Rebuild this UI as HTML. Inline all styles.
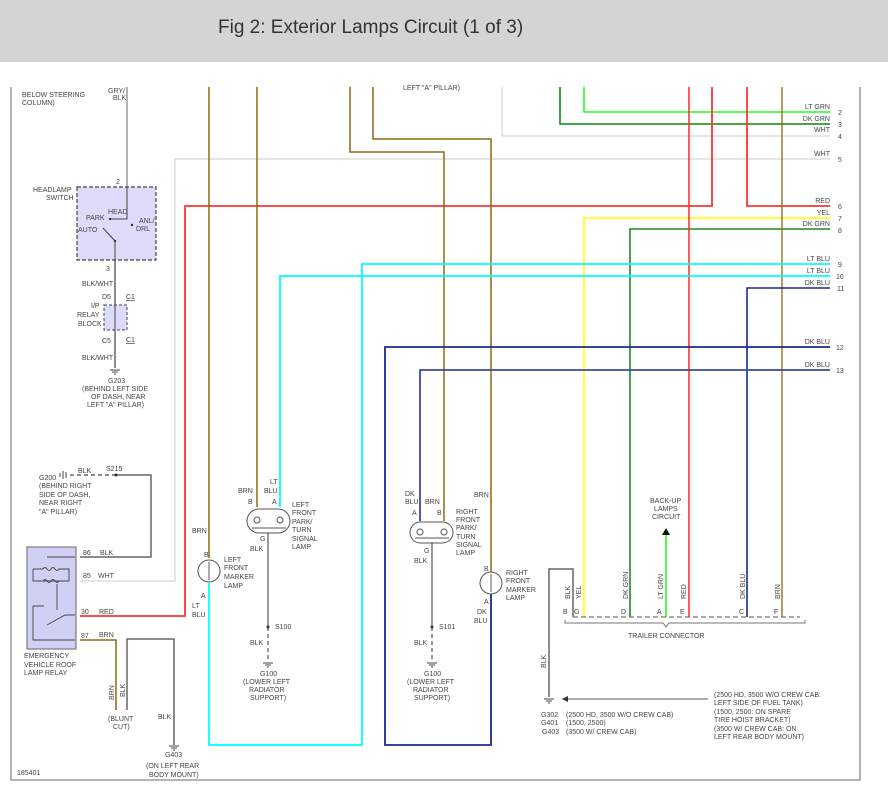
<!DOCTYPE html>
<html><head><meta charset="utf-8"><style>
body{margin:0;width:888px;height:801px;overflow:hidden;background:#fff;font-family:"Liberation Sans",sans-serif}
#hd{position:absolute;left:0;top:0;width:888px;height:62px;background:#d4d4d4}
#hd span{position:absolute;left:218px;top:17px;font-size:19px;color:#333}
svg{position:absolute;left:0;top:0}
text{font-family:"Liberation Sans",sans-serif;font-size:7px;fill:#444}
</style></head><body>
<div id="hd"><span>Fig 2: Exterior Lamps Circuit (1 of 3)</span></div>
<svg width="888" height="801" viewBox="0 0 888 801">
<g fill="none" stroke-width="1.3">
<path d="M11 87V780H860V87" stroke="#888"/>
<path d="M127 87V187" stroke="#999" stroke-width="1.5"/>
<path d="M115 260V305M115 330V368" stroke="#666" stroke-width="1.5"/>
<path d="M502 87V136H830" stroke="#ddd" stroke-width="1.5"/>
<path d="M830 159H175V581H80" stroke="#ddd" stroke-width="1.5"/>
<path d="M584 87V112H830" stroke="#22ff22" stroke-width="1.6"/>
<path d="M560 87V124H830" stroke="#2a9a2a" stroke-width="1.8"/>
<path d="M830 229H630V617" stroke="#1f8a1f" stroke-width="1.6"/>
<path d="M666 535V617" stroke="#22ff22" stroke-width="1.6"/>
<path d="M830 218H584V617" stroke="#ffff00" stroke-width="1.6"/>
<path d="M689 87V617" stroke="#ff3333" stroke-width="1.6"/>
<path d="M712 87V206H185V616H80" stroke="#ff3333" stroke-width="1.8"/>
<path d="M747 87V206H830" stroke="#ff3333" stroke-width="1.8"/>
<path d="M209 87V558" stroke="#8a6a10" stroke-width="1.5"/>
<path d="M257 87V507" stroke="#8a6a10" stroke-width="1.5"/>
<path d="M350 87V152H444V521" stroke="#8a6a10" stroke-width="1.5"/>
<path d="M373 87V139H491V572" stroke="#8a6a10" stroke-width="1.5"/>
<path d="M782 87V617" stroke="#8a6a10" stroke-width="1.3"/>
<path d="M80 640H116V710" stroke="#8a6a10" stroke-width="1.5"/>
<path d="M830 264H362V745H209V583" stroke="#00ffff" stroke-width="1.8"/>
<path d="M830 276H280V507" stroke="#00ffff" stroke-width="1.8"/>
<path d="M830 288H747V617" stroke="#1a2a90" stroke-width="1.6"/>
<path d="M830 347H385V745H491V594" stroke="#1a2a90" stroke-width="1.8"/>
<path d="M830 370H420V521" stroke="#3a4aa0" stroke-width="1.8"/>
<path d="M80 557H151V475H116" stroke="#666" stroke-width="1.5"/>
<path d="M116 475H68" stroke="#666" stroke-width="1.5" stroke-dasharray="4,3"/>
<path d="M127 710V639H174V745" stroke="#666" stroke-width="1.5"/>
<path d="M268 533V627" stroke="#777" stroke-width="1.5"/>
<path d="M268 627V662" stroke="#777" stroke-width="1.5" stroke-dasharray="4,3"/>
<path d="M432 542V627" stroke="#777" stroke-width="1.5"/>
<path d="M432 627V662" stroke="#777" stroke-width="1.5" stroke-dasharray="4,3"/>
<path d="M573 617V569H549V697" stroke="#666" stroke-width="1.5"/>
<path d="M562 699H708" stroke="#555" stroke-width="1"/>
<path d="M573 617H800" stroke="#777" stroke-width="1.2" stroke-dasharray="5,3"/>
<path d="M565 620v3h98l3 4 3-4h136v-3" stroke="#777" stroke-width="1"/>
</g>
<polygon points="562,699 568,696 568,702" fill="#333"/>
<polygon points="666,528 662,535 670,535" fill="#111"/>
<rect x="77" y="187" width="79" height="73" fill="#dcdcfa" stroke="#444" stroke-dasharray="4,2" stroke-width="1.2"/>
<path d="M110 219H127V187M115 260V241L103 228" stroke="#444" fill="none" stroke-width="1"/>
<circle cx="110" cy="219" r="1.2" fill="#333"/><circle cx="132" cy="225" r="1.2" fill="#333"/><circle cx="115" cy="241" r="1.2" fill="#333"/>
<rect x="104" y="305" width="23" height="25" fill="#dcdcfa" stroke="#444" stroke-dasharray="3,2"/>
<path d="M115 305V330" stroke="#444"/>
<rect x="27" y="547" width="49" height="102" fill="#d0d0f4" stroke="#666"/>
<g stroke="#444" fill="none" stroke-width="0.9">
<path d="M47 557H75M33 569V581H42M33 569H43M43 569q2-3 4 0t4 0 4 0 4 0h10v12H43q2-3 4 0t4 0 4 0 4 0M57 584V610M33 606V640H75M33 606H44M47 625L65 615H75"/>
</g>
<g fill="none" stroke="#555" stroke-width="1">
<rect x="247" y="509" width="43" height="24" rx="12"/>
<rect x="410" y="522" width="43" height="21" rx="10.5"/>
<circle cx="209" cy="571" r="11"/>
<circle cx="491" cy="583" r="11"/>
<ellipse cx="257" cy="520" rx="3" ry="3"/><ellipse cx="280" cy="520" rx="3" ry="3"/>
<ellipse cx="420" cy="532" rx="3" ry="3"/><ellipse cx="444" cy="532" rx="3" ry="3"/>
<path d="M252 528H286M415 538H449M209 562V580M491 574V592"/>
</g>
<g fill="#333">
<circle cx="268" cy="627" r="1.5"/><circle cx="432" cy="627" r="1.5"/><circle cx="116" cy="475" r="1.5"/>
</g>
<g stroke="#444" stroke-width="1">
<path d="M110 370h10M112 372h6M114 374h2M263 663h10M265 665h6M267 667h2M427 663h10M429 665h6M431 667h2M544 699h10M546 701h6M548 703h2M169 746h10M171 748h6M173 750h2M63 471v8M66 472v6M60 473v4"/>
</g>
<text x="22" y="97">BELOW STEERING</text><text x="22" y="105">COLUMN)</text>
<text x="108" y="93">GRY/</text><text x="113" y="100">BLK</text>
<text x="403" y="90">LEFT "A" PILLAR)</text>
<text x="116" y="184">2</text>
<text x="33" y="192">HEADLAMP</text><text x="46" y="200">SWITCH</text>
<text x="108" y="214">HEAD</text><text x="86" y="220">PARK</text><text x="78" y="232">AUTO</text>
<text x="139" y="223">ANL/</text><text x="136" y="231">DRL</text>
<text x="106" y="271">3</text>
<text x="82" y="286">BLK/WHT</text>
<text x="102" y="299">D5</text><text x="126" y="299" text-decoration="underline">C1</text>
<text x="91" y="308">I/P</text><text x="77" y="317">RELAY</text><text x="78" y="326">BLOCK</text>
<text x="102" y="343">C5</text><text x="126" y="342" text-decoration="underline">C1</text>
<text x="82" y="360">BLK/WHT</text>
<text x="108" y="383">G203</text>
<text x="82" y="391">(BEHIND LEFT SIDE</text><text x="91" y="399">OF DASH, NEAR</text><text x="87" y="407">LEFT "A" PILLAR)</text>
<text x="39" y="480">G200</text><text x="78" y="473">BLK</text><text x="106" y="471">S215</text>
<text x="39" y="488">(BEHIND RIGHT</text><text x="39" y="497">SIDE OF DASH,</text><text x="39" y="505">NEAR RIGHT</text><text x="39" y="514">"A" PILLAR)</text>
<text x="83" y="555">86</text><text x="100" y="555">BLK</text>
<text x="83" y="578">85</text><text x="98" y="578">WHT</text>
<text x="81" y="614">30</text><text x="99" y="614">RED</text>
<text x="81" y="638">87</text><text x="99" y="637">BRN</text>
<text x="24" y="658">EMERGENCY</text><text x="24" y="667">VEHICLE ROOF</text><text x="24" y="675">LAMP RELAY</text>
<text transform="translate(114,700) rotate(-90)">BRN</text>
<text transform="translate(125,697) rotate(-90)">BLK</text>
<text x="108" y="721">(BLUNT</text><text x="113" y="729">CUT)</text>
<text x="158" y="719">BLK</text>
<text x="165" y="757">G403</text>
<text x="146" y="768">(ON LEFT REAR</text><text x="149" y="777">BODY MOUNT)</text>
<text x="17" y="775">185401</text>
<text x="192" y="533">BRN</text><text x="204" y="557">B</text><text x="201" y="598">A</text>
<text x="192" y="608">LT</text><text x="192" y="617">BLU</text>
<text x="224" y="562">LEFT</text><text x="224" y="570">FRONT</text><text x="224" y="579">MARKER</text><text x="224" y="588">LAMP</text>
<text x="238" y="493">BRN</text><text x="270" y="484">LT</text><text x="264" y="493">BLU</text>
<text x="248" y="504">B</text><text x="272" y="504">A</text>
<text x="292" y="507">LEFT</text><text x="292" y="515">FRONT</text><text x="292" y="524">PARK/</text><text x="292" y="532">TURN</text><text x="292" y="541">SIGNAL</text><text x="292" y="549">LAMP</text>
<text x="260" y="541">G</text><text x="250" y="551">BLK</text>
<text x="275" y="629">S100</text><text x="250" y="645">BLK</text>
<text x="260" y="676">G100</text><text x="243" y="684">(LOWER LEFT</text><text x="249" y="692">RADIATOR</text><text x="250" y="700">SUPPORT)</text>
<text x="405" y="496">DK</text><text x="405" y="504">BLU</text><text x="425" y="504">BRN</text>
<text x="412" y="515">A</text><text x="437" y="515">B</text>
<text x="456" y="514">RIGHT</text><text x="456" y="522">FRONT</text><text x="456" y="530">PARK/</text><text x="456" y="539">TURN</text><text x="456" y="547">SIGNAL</text><text x="456" y="555">LAMP</text>
<text x="424" y="553">G</text><text x="414" y="563">BLK</text>
<text x="439" y="629">S101</text><text x="414" y="645">BLK</text>
<text x="424" y="676">G100</text><text x="407" y="684">(LOWER LEFT</text><text x="413" y="692">RADIATOR</text><text x="414" y="700">SUPPORT)</text>
<text x="474" y="497">BRN</text><text x="484" y="571">B</text><text x="484" y="604">A</text>
<text x="477" y="614">DK</text><text x="474" y="623">BLU</text>
<text x="506" y="575">RIGHT</text><text x="506" y="583">FRONT</text><text x="506" y="592">MARKER</text><text x="506" y="600">LAMP</text>
<text x="650" y="503">BACK-UP</text><text x="654" y="511">LAMPS</text><text x="652" y="519">CIRCUIT</text>
<text transform="translate(570,599) rotate(-90)">BLK</text>
<text transform="translate(581,599) rotate(-90)">YEL</text>
<text transform="translate(628,599) rotate(-90)">DK GRN</text>
<text transform="translate(663,599) rotate(-90)">LT GRN</text>
<text transform="translate(686,599) rotate(-90)">RED</text>
<text transform="translate(745,599) rotate(-90)">DK BLU</text>
<text transform="translate(780,599) rotate(-90)">BRN</text>
<text x="563" y="614">B</text><text x="574" y="614">G</text><text x="621" y="614">D</text><text x="657" y="614">A</text><text x="680" y="614">E</text><text x="739" y="614">C</text><text x="774" y="614">F</text>
<text x="628" y="638">TRAILER CONNECTOR</text>
<text transform="translate(546,668) rotate(-90)">BLK</text>
<text x="541" y="717">G302</text><text x="566" y="717">(2500 HD, 3500 W/O CREW CAB)</text>
<text x="541" y="725">G401</text><text x="566" y="725">(1500, 2500)</text>
<text x="542" y="734">G403</text><text x="566" y="734">(3500 W/ CREW CAB)</text>
<text x="714" y="697">(2500 HD, 3500 W/O CREW CAB:</text><text x="714" y="705">LEFT SIDE OF FUEL TANK)</text>
<text x="714" y="714">(1500, 2500: ON SPARE</text><text x="714" y="722">TIRE HOIST BRACKET)</text>
<text x="714" y="731">(3500 W/ CREW CAB: ON</text><text x="714" y="739">LEFT REAR BODY MOUNT)</text>
<g text-anchor="end">
<text x="830" y="109">LT GRN</text><text x="830" y="121">DK GRN</text><text x="830" y="132">WHT</text><text x="830" y="156">WHT</text>
<text x="830" y="203">RED</text><text x="830" y="215">YEL</text><text x="830" y="226">DK GRN</text>
<text x="830" y="261">LT BLU</text><text x="830" y="273">LT BLU</text><text x="830" y="285">DK BLU</text>
<text x="830" y="344">DK BLU</text><text x="830" y="367">DK BLU</text>
</g>
<text x="838" y="115">2</text><text x="838" y="127">3</text><text x="838" y="139">4</text><text x="838" y="162">5</text>
<text x="838" y="209">6</text><text x="838" y="221">7</text><text x="838" y="233">8</text>
<text x="838" y="267">9</text><text x="836" y="279">10</text><text x="837" y="291">11</text>
<text x="836" y="350">12</text><text x="836" y="373">13</text>
</svg>
</body></html>
